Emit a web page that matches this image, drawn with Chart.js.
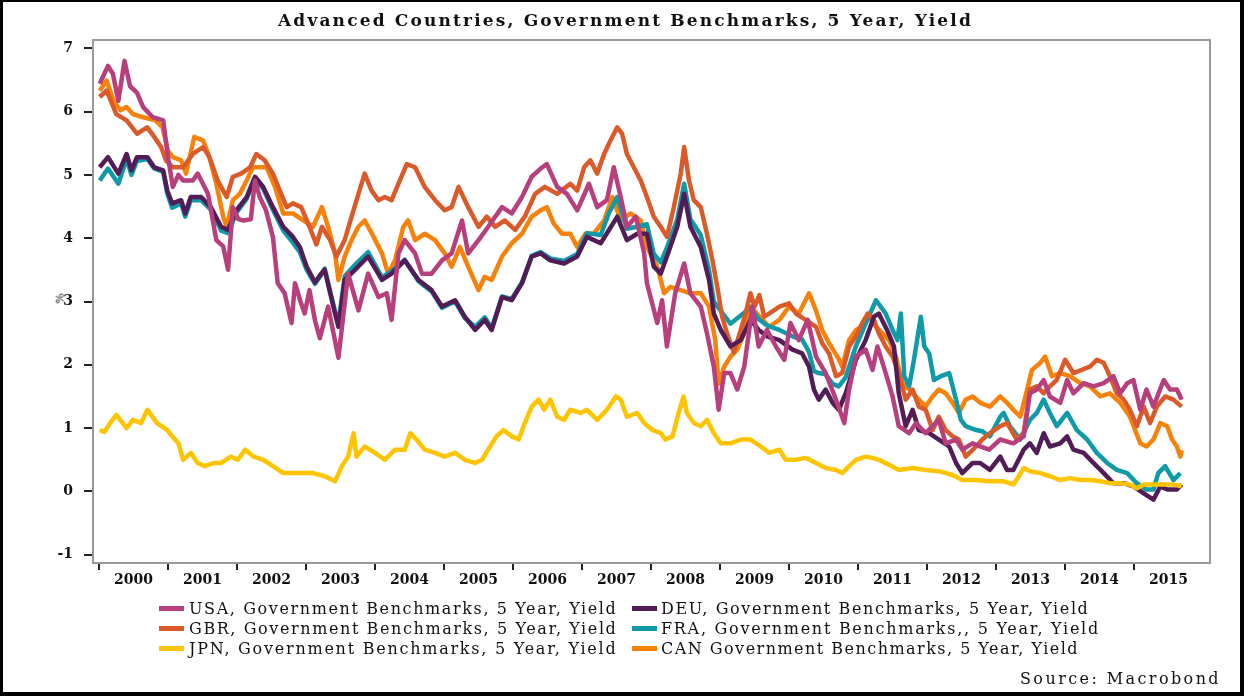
<!DOCTYPE html>
<html>
<head>
<meta charset="utf-8">
<script src="https://cdn.jsdelivr.net/npm/chart.js@4.4.1/dist/chart.umd.min.js"></script>
<style>
  html, body { margin: 0; padding: 0; background: #fff; }
  #wrap { position: relative; width: 1248px; height: 700px; overflow: hidden; background: #fff; }
  #c { position: absolute; left: 0; top: 0; }
  .txt { position: absolute; white-space: nowrap; font-family: "DejaVu Serif", serif; color: #111; }
  #title { font-weight: bold; font-size: 17px; }
  .leg { font-size: 16px; line-height: 19px; }
  .sw { position: absolute; height: 5px; }
  #frame { position: absolute; left: 0; top: 0; width: 1244px; height: 696px; box-sizing: border-box;
           border-left: 3px solid #000; border-top: 2px solid #000; border-right: 4px solid #000; border-bottom: 4px solid #000; pointer-events: none; }
</style>
</head>
<body>
<div id="wrap">
  <canvas id="c" width="1248" height="700"></canvas>
  <div id="title" class="txt">Advanced Countries, Government Benchmarks, 5 Year, Yield</div>
  <div id="pct" class="txt" style="font-size:11px;">%</div>
  <div id="legend"></div>
  <div id="source" class="txt leg">Source: Macrobond</div>
  <div id="frame"></div>
</div>
<script>
// ---------- DATA (decimal years, yield %) ----------
const seriesNames = [
  "USA, Government Benchmarks, 5 Year, Yield",
  "DEU, Government Benchmarks, 5 Year, Yield",
  "GBR, Government Benchmarks, 5 Year, Yield",
  "FRA, Government Benchmarks,, 5 Year, Yield",
  "JPN, Government Benchmarks, 5 Year, Yield",
  "CAN Government Benchmarks, 5 Year, Yield"
];
const seriesColors = ["#B63F7C", "#521C57", "#DA5A2A", "#109AA8", "#FFC400", "#F7820B"];

const usaT = [2000.01,2000.13,2000.20,2000.28,2000.37,2000.45,2000.55,2000.64,2000.78,2000.93,2001.00,2001.07,2001.15,2001.22,2001.36,2001.43,2001.58,2001.70,2001.80,2001.87,2001.94,2002.02,2002.09,2002.20,2002.26,2002.33,2002.42,2002.52,2002.59,2002.69,2002.79,2002.84,2002.92,2002.98,2003.05,2003.13,2003.20,2003.32,2003.47,2003.61,2003.76,2003.90,2004.05,2004.17,2004.24,2004.34,2004.43,2004.58,2004.68,2004.82,2004.97,2005.11,2005.26,2005.35,2005.50,2005.64,2005.84,2005.98,2006.13,2006.27,2006.40,2006.49,2006.64,2006.78,2006.93,2007.10,2007.22,2007.36,2007.46,2007.56,2007.65,2007.78,2007.90,2007.94,2008.09,2008.16,2008.23,2008.35,2008.48,2008.57,2008.72,2008.81,2008.91,2008.98,2009.06,2009.15,2009.25,2009.35,2009.47,2009.56,2009.68,2009.81,2009.93,2010.02,2010.14,2010.27,2010.39,2010.53,2010.68,2010.80,2010.87,2010.97,2011.11,2011.21,2011.28,2011.40,2011.50,2011.59,2011.74,2011.84,2011.98,2012.17,2012.27,2012.42,2012.51,2012.66,2012.77,2012.90,2013.06,2013.25,2013.40,2013.49,2013.59,2013.69,2013.78,2013.93,2014.03,2014.12,2014.27,2014.41,2014.56,2014.70,2014.80,2014.90,2014.99,2015.09,2015.18,2015.28,2015.43,2015.52,2015.62,2015.69];
const usaV = [6.44,6.72,6.60,6.17,6.80,6.40,6.30,6.07,5.91,5.86,5.28,4.81,5.00,4.91,4.91,5.02,4.70,3.97,3.87,3.50,4.49,4.30,4.28,4.30,4.91,4.65,4.44,4.02,3.29,3.13,2.66,3.29,3.00,2.81,3.18,2.70,2.42,2.92,2.11,3.44,2.86,3.44,3.07,3.13,2.71,3.76,3.97,3.76,3.44,3.44,3.65,3.76,4.28,3.76,3.97,4.18,4.49,4.39,4.65,4.97,5.10,5.17,4.81,4.70,4.44,4.86,4.49,4.60,5.12,4.65,4.18,4.34,3.76,3.29,2.66,3.02,2.29,3.13,3.60,3.13,2.92,2.50,1.97,1.29,1.87,1.87,1.61,1.97,2.92,2.29,2.55,2.29,2.08,2.66,2.39,2.71,2.13,1.87,1.45,1.08,1.61,2.13,2.24,1.92,2.29,1.87,1.50,1.03,0.92,1.08,0.92,1.13,0.76,0.82,0.66,0.76,0.71,0.66,0.82,0.76,0.87,1.55,1.61,1.76,1.50,1.40,1.76,1.55,1.71,1.66,1.71,1.82,1.55,1.71,1.76,1.29,1.61,1.34,1.76,1.61,1.61,1.45];

const deuT = [2000.01,2000.13,2000.28,2000.40,2000.47,2000.55,2000.70,2000.80,2000.93,2000.99,2001.06,2001.19,2001.25,2001.33,2001.48,2001.62,2001.77,2001.87,2001.99,2002.14,2002.26,2002.38,2002.52,2002.67,2002.81,2002.91,2003.01,2003.13,2003.22,2003.27,2003.42,2003.47,2003.56,2003.71,2003.90,2004.10,2004.24,2004.43,2004.63,2004.82,2004.97,2005.16,2005.30,2005.45,2005.59,2005.69,2005.84,2005.98,2006.13,2006.27,2006.40,2006.54,2006.74,2006.93,2007.07,2007.27,2007.39,2007.51,2007.65,2007.80,2007.94,2008.04,2008.14,2008.23,2008.38,2008.48,2008.57,2008.72,2008.84,2008.91,2009.01,2009.15,2009.30,2009.44,2009.56,2009.68,2009.86,2010.05,2010.19,2010.29,2010.36,2010.43,2010.53,2010.63,2010.72,2010.82,2010.97,2011.11,2011.23,2011.30,2011.42,2011.52,2011.59,2011.69,2011.79,2011.88,2012.03,2012.17,2012.32,2012.42,2012.51,2012.66,2012.77,2012.91,2013.06,2013.16,2013.25,2013.40,2013.49,2013.59,2013.69,2013.78,2013.93,2014.03,2014.12,2014.27,2014.41,2014.56,2014.70,2014.85,2014.99,2015.14,2015.28,2015.38,2015.48,2015.62,2015.69];
const deuV = [5.12,5.28,5.02,5.33,5.07,5.28,5.28,5.12,5.07,4.75,4.55,4.60,4.39,4.65,4.65,4.49,4.18,4.13,4.44,4.65,4.97,4.81,4.49,4.18,4.02,3.86,3.55,3.30,3.44,3.50,2.81,2.60,3.34,3.50,3.71,3.34,3.44,3.65,3.34,3.18,2.92,3.02,2.76,2.55,2.71,2.55,3.07,3.02,3.29,3.71,3.76,3.65,3.60,3.71,4.02,3.92,4.13,4.34,3.97,4.07,4.07,3.55,3.44,3.71,4.18,4.70,4.18,3.86,3.34,2.81,2.55,2.29,2.39,2.71,2.55,2.45,2.39,2.24,2.18,1.97,1.61,1.45,1.61,1.40,1.29,1.55,2.08,2.39,2.76,2.81,2.55,2.29,1.55,1.03,1.29,0.97,0.92,0.82,0.71,0.45,0.29,0.45,0.45,0.34,0.55,0.34,0.34,0.66,0.76,0.61,0.92,0.71,0.76,0.87,0.66,0.61,0.45,0.29,0.13,0.13,0.08,-0.03,-0.13,0.08,0.03,0.03,0.11];

const gbrT = [2000.01,2000.11,2000.19,2000.25,2000.40,2000.55,2000.70,2000.80,2000.90,2000.97,2001.07,2001.22,2001.36,2001.51,2001.60,2001.72,2001.85,2001.94,2002.06,2002.19,2002.28,2002.40,2002.52,2002.62,2002.72,2002.81,2002.93,2003.05,2003.15,2003.23,2003.35,2003.44,2003.56,2003.66,2003.76,2003.85,2003.95,2004.05,2004.14,2004.24,2004.34,2004.46,2004.58,2004.72,2004.87,2005.01,2005.11,2005.21,2005.35,2005.50,2005.62,2005.74,2005.88,2006.03,2006.17,2006.32,2006.46,2006.64,2006.83,2006.93,2007.03,2007.12,2007.22,2007.32,2007.41,2007.51,2007.58,2007.65,2007.75,2007.85,2007.94,2008.04,2008.14,2008.23,2008.33,2008.43,2008.48,2008.55,2008.62,2008.72,2008.81,2008.89,2008.96,2009.03,2009.10,2009.20,2009.30,2009.37,2009.44,2009.50,2009.57,2009.64,2009.71,2009.86,2010.00,2010.10,2010.24,2010.39,2010.48,2010.58,2010.68,2010.77,2010.87,2010.97,2011.06,2011.14,2011.23,2011.30,2011.40,2011.50,2011.59,2011.69,2011.79,2011.88,2011.98,2012.08,2012.17,2012.27,2012.37,2012.46,2012.56,2012.71,2012.80,2012.91,2013.06,2013.16,2013.30,2013.40,2013.49,2013.59,2013.69,2013.78,2013.88,2014.00,2014.12,2014.24,2014.36,2014.46,2014.56,2014.65,2014.75,2014.85,2014.94,2015.04,2015.14,2015.23,2015.33,2015.45,2015.57,2015.69];
const gbrV = [6.23,6.33,6.12,5.96,5.86,5.65,5.75,5.60,5.44,5.23,5.12,5.12,5.33,5.44,5.28,4.91,4.65,4.97,5.02,5.12,5.33,5.23,5.02,4.75,4.49,4.55,4.49,4.18,3.90,4.18,3.97,3.71,3.97,4.34,4.70,5.02,4.75,4.60,4.65,4.60,4.86,5.17,5.12,4.81,4.60,4.44,4.49,4.81,4.49,4.18,4.34,4.18,4.28,4.13,4.34,4.70,4.81,4.70,4.86,4.75,5.12,5.23,5.02,5.33,5.54,5.75,5.65,5.33,5.12,4.91,4.65,4.34,4.18,4.02,4.49,5.02,5.44,4.91,4.60,4.49,4.07,3.65,3.23,2.76,2.50,2.20,2.55,2.81,3.13,2.92,3.10,2.76,2.81,2.92,2.97,2.81,2.71,2.60,2.34,2.18,1.82,1.87,2.29,2.45,2.66,2.81,2.71,2.50,2.29,2.13,1.87,1.45,1.61,1.34,1.29,0.97,1.18,0.97,0.87,0.82,0.55,0.71,0.82,0.92,1.03,1.08,0.82,0.92,1.61,1.66,1.55,1.66,1.76,2.08,1.87,1.92,1.97,2.08,2.03,1.82,1.55,1.45,1.29,1.03,1.34,1.08,1.34,1.50,1.45,1.34];

const fraT = [2000.01,2000.13,2000.28,2000.40,2000.47,2000.55,2000.70,2000.80,2000.93,2000.99,2001.06,2001.19,2001.25,2001.33,2001.48,2001.62,2001.77,2001.87,2001.99,2002.14,2002.26,2002.38,2002.52,2002.67,2002.81,2002.91,2003.01,2003.13,2003.22,2003.27,2003.42,2003.47,2003.56,2003.71,2003.90,2004.10,2004.24,2004.43,2004.63,2004.82,2004.97,2005.16,2005.30,2005.45,2005.59,2005.69,2005.84,2005.98,2006.13,2006.27,2006.40,2006.54,2006.74,2006.93,2007.07,2007.27,2007.39,2007.51,2007.65,2007.80,2007.94,2008.04,2008.14,2008.23,2008.38,2008.48,2008.57,2008.72,2008.84,2008.91,2009.01,2009.15,2009.30,2009.44,2009.56,2009.68,2009.86,2010.05,2010.19,2010.29,2010.36,2010.43,2010.53,2010.63,2010.72,2010.82,2010.97,2011.11,2011.26,2011.40,2011.50,2011.57,2011.62,2011.67,2011.74,2011.81,2011.91,2011.96,2012.03,2012.10,2012.20,2012.32,2012.42,2012.49,2012.56,2012.71,2012.80,2012.91,2013.06,2013.11,2013.20,2013.35,2013.49,2013.59,2013.69,2013.78,2013.88,2014.03,2014.17,2014.32,2014.46,2014.61,2014.75,2014.90,2015.04,2015.18,2015.28,2015.35,2015.45,2015.57,2015.67];
const fraV = [4.91,5.10,4.86,5.25,5.00,5.22,5.25,5.10,5.05,4.70,4.48,4.55,4.34,4.60,4.60,4.45,4.12,4.08,4.40,4.62,4.95,4.78,4.45,4.12,3.93,3.78,3.50,3.28,3.42,3.52,2.85,2.66,3.40,3.58,3.78,3.38,3.48,3.66,3.32,3.16,2.90,3.00,2.74,2.60,2.75,2.58,3.08,3.04,3.30,3.72,3.78,3.68,3.64,3.75,4.08,4.05,4.40,4.65,4.15,4.18,4.22,3.75,3.62,3.85,4.30,4.86,4.30,4.05,3.50,3.00,2.85,2.65,2.78,2.90,2.72,2.62,2.55,2.45,2.40,2.20,1.90,1.87,1.85,1.70,1.66,1.80,2.30,2.65,3.02,2.81,2.55,2.39,2.81,1.82,1.66,2.08,2.76,2.29,2.18,1.76,1.82,1.87,1.45,1.13,1.03,0.97,0.95,0.87,1.18,1.24,1.03,0.82,1.13,1.24,1.45,1.24,1.03,1.24,0.97,0.82,0.61,0.45,0.34,0.29,0.13,0.03,0.03,0.29,0.40,0.18,0.29];

const jpnT = [2000.01,2000.08,2000.16,2000.25,2000.40,2000.49,2000.61,2000.70,2000.84,2000.99,2001.06,2001.15,2001.22,2001.33,2001.43,2001.53,2001.67,2001.77,2001.91,2002.01,2002.12,2002.24,2002.38,2002.52,2002.67,2002.81,2002.96,2003.10,2003.27,2003.42,2003.52,2003.61,2003.69,2003.73,2003.85,2004.00,2004.14,2004.29,2004.43,2004.51,2004.60,2004.72,2004.87,2005.01,2005.16,2005.30,2005.45,2005.55,2005.64,2005.76,2005.86,2005.98,2006.08,2006.17,2006.27,2006.37,2006.45,2006.54,2006.64,2006.74,2006.83,2006.98,2007.07,2007.22,2007.36,2007.49,2007.56,2007.65,2007.80,2007.90,2008.02,2008.14,2008.21,2008.31,2008.40,2008.47,2008.52,2008.62,2008.72,2008.81,2008.91,2009.01,2009.15,2009.30,2009.44,2009.59,2009.71,2009.86,2009.95,2010.10,2010.24,2010.39,2010.53,2010.68,2010.77,2010.87,2010.97,2011.11,2011.21,2011.30,2011.45,2011.59,2011.79,2011.98,2012.17,2012.37,2012.51,2012.71,2012.90,2013.11,2013.25,2013.33,2013.40,2013.49,2013.64,2013.78,2013.93,2014.07,2014.22,2014.36,2014.51,2014.65,2014.80,2014.94,2015.04,2015.14,2015.28,2015.43,2015.57,2015.69];
const jpnV = [0.97,0.94,1.08,1.21,1.00,1.13,1.08,1.29,1.08,0.97,0.87,0.76,0.50,0.61,0.45,0.40,0.45,0.45,0.55,0.50,0.66,0.55,0.50,0.40,0.29,0.29,0.29,0.29,0.24,0.16,0.40,0.55,0.92,0.55,0.71,0.61,0.50,0.66,0.66,0.92,0.82,0.66,0.61,0.55,0.61,0.50,0.45,0.50,0.66,0.87,0.97,0.87,0.82,1.08,1.34,1.45,1.29,1.45,1.18,1.13,1.29,1.24,1.29,1.13,1.29,1.50,1.45,1.18,1.24,1.08,0.97,0.92,0.82,0.87,1.24,1.50,1.24,1.08,1.03,1.13,0.92,0.76,0.76,0.82,0.82,0.71,0.61,0.66,0.50,0.50,0.53,0.45,0.37,0.34,0.29,0.40,0.50,0.55,0.53,0.50,0.42,0.34,0.37,0.34,0.32,0.26,0.18,0.18,0.16,0.16,0.11,0.24,0.37,0.32,0.29,0.24,0.18,0.21,0.18,0.18,0.16,0.13,0.13,0.11,0.05,0.11,0.11,0.11,0.11,0.08];

const canT = [2000.01,2000.11,2000.21,2000.31,2000.40,2000.49,2000.64,2000.82,2000.92,2001.00,2001.07,2001.19,2001.26,2001.38,2001.51,2001.60,2001.70,2001.80,2001.85,2001.94,2002.04,2002.14,2002.23,2002.33,2002.43,2002.55,2002.67,2002.81,2002.96,2003.10,2003.23,2003.32,2003.42,2003.47,2003.56,2003.66,2003.76,2003.85,2003.98,2004.10,2004.19,2004.29,2004.41,2004.48,2004.58,2004.72,2004.87,2005.01,2005.11,2005.23,2005.35,2005.50,2005.59,2005.69,2005.84,2005.98,2006.13,2006.27,2006.40,2006.49,2006.59,2006.71,2006.83,2006.93,2007.05,2007.17,2007.32,2007.44,2007.56,2007.70,2007.85,2007.94,2008.09,2008.19,2008.28,2008.43,2008.57,2008.72,2008.84,2008.93,2008.98,2009.06,2009.15,2009.25,2009.35,2009.44,2009.56,2009.71,2009.86,2010.00,2010.14,2010.29,2010.39,2010.48,2010.58,2010.70,2010.77,2010.87,2010.97,2011.06,2011.16,2011.26,2011.35,2011.45,2011.55,2011.64,2011.74,2011.88,2011.98,2012.08,2012.17,2012.27,2012.37,2012.46,2012.56,2012.66,2012.77,2012.91,2013.06,2013.16,2013.25,2013.35,2013.45,2013.52,2013.64,2013.71,2013.81,2013.93,2014.07,2014.22,2014.36,2014.51,2014.65,2014.80,2014.94,2015.09,2015.18,2015.28,2015.38,2015.48,2015.55,2015.62,2015.67,2015.69];
const canV = [6.33,6.49,6.17,6.02,6.07,5.96,5.91,5.86,5.75,5.38,5.28,5.23,5.02,5.60,5.54,5.28,4.86,4.34,4.18,4.60,4.70,4.91,5.12,5.12,5.12,4.81,4.39,4.39,4.28,4.18,4.49,4.18,3.76,3.34,3.71,3.97,4.18,4.28,4.02,3.76,3.44,3.65,4.18,4.28,3.97,4.07,3.97,3.76,3.55,3.86,3.55,3.18,3.39,3.34,3.71,3.92,4.07,4.34,4.44,4.49,4.23,4.07,4.07,3.86,4.07,4.07,4.28,4.65,4.28,4.39,4.28,3.86,3.55,3.13,3.23,3.18,3.13,3.13,2.92,2.39,1.70,1.97,2.13,2.24,2.50,2.92,2.78,2.60,2.71,2.92,2.81,3.13,2.86,2.55,2.34,2.13,1.97,2.39,2.55,2.60,2.76,2.60,2.50,2.39,2.13,1.71,1.61,1.45,1.34,1.50,1.61,1.55,1.40,1.24,1.45,1.50,1.40,1.34,1.50,1.40,1.29,1.18,1.61,1.92,2.03,2.13,1.82,1.87,1.82,1.71,1.66,1.50,1.55,1.40,1.18,0.76,0.71,0.82,1.08,1.03,0.82,0.71,0.55,0.65];

const yTickValues = [-1, 0, 1, 2, 3, 4, 5, 6, 7];
const yearTicks = [2000,2001,2002,2003,2004,2005,2006,2007,2008,2009,2010,2011,2012,2013,2014,2015];

// ---------- CHART ----------
const pts = (T, V) => T.map((t, i) => ({ x: t, y: V[i] }));
const allT = [usaT, deuT, gbrT, fraT, jpnT, canT];
const allV = [usaV, deuV, gbrV, fraV, jpnV, canV];
const zOrder = [1, 2, 3, 4, 0, 5]; // lower = drawn on top

const datasets = seriesNames.map((name, i) => ({
  label: name,
  data: pts(allT[i], allV[i]),
  borderColor: seriesColors[i],
  backgroundColor: seriesColors[i],
  borderWidth: 4.5,
  pointRadius: 0,
  tension: 0,
  fill: false,
  order: zOrder[i],
  borderJoinStyle: 'round'
}));

const tickFont = { family: "DejaVu Serif", weight: "bold", size: 14 };

const framePlugin = {
  id: 'frame',
  beforeDatasetsDraw(chart) {
    const a = chart.chartArea, ctx = chart.ctx;
    ctx.save();
    ctx.strokeStyle = '#9a9a9a';
    ctx.lineWidth = 2;
    ctx.strokeRect(a.left, a.top, a.right - a.left, a.bottom - a.top);
    ctx.restore();
  }
};

new Chart(document.getElementById('c'), {
  type: 'line',
  data: { datasets },
  plugins: [framePlugin],
  options: {
    responsive: false,
    devicePixelRatio: 1,
    animation: false,
    layout: { padding: { left: 0, top: 40, right: 38, bottom: 107 } },
    plugins: { legend: { display: false }, tooltip: { enabled: false }, title: { display: false } },
    scales: {
      x: {
        type: 'linear',
        min: 1999.913,
        max: 2016.10,
        afterBuildTicks(scale) {
          const t = [];
          yearTicks.forEach(y => { t.push({ value: y }); t.push({ value: y + 0.5 }); });
          scale.ticks = t;
        },
        afterFit(scale) { scale.height = 30; },
        ticks: {
          autoSkip: false, maxRotation: 0, minRotation: 0,
          padding: 2, color: '#111', font: tickFont,
          callback: (v) => Number.isInteger(v) ? '' : String(Math.floor(v))
        },
        grid: {
          drawOnChartArea: false, drawTicks: true, tickLength: 7, tickWidth: 2, lineWidth: 2,
          color: (ctx) => (ctx.tick && Number.isInteger(ctx.tick.value)) ? '#222' : 'rgba(0,0,0,0)',
          tickColor: (ctx) => (ctx.tick && Number.isInteger(ctx.tick.value)) ? '#222' : 'rgba(0,0,0,0)'
        },
        border: { display: false }
      },
      y: {
        type: 'linear',
        min: -1.13,
        max: 7.13,
        afterBuildTicks(scale) { scale.ticks = yTickValues.map(v => ({ value: v })); },
        afterFit(scale) { scale.width = 93; },
        ticks: { padding: 11, color: '#111', font: tickFont },
        grid: { drawOnChartArea: false, drawTicks: true, tickLength: 9, tickWidth: 2, lineWidth: 2, color: '#222', tickColor: '#222' },
        border: { display: false }
      }
    }
  }
});

// ---------- TEXT LAYOUT ----------
function fitWidth(el, target) {
  el.style.letterSpacing = '0px';
  const w = el.getBoundingClientRect().width;
  const n = el.textContent.length;
  el.style.letterSpacing = ((target - w) / n) + 'px';
}
function place(el, left, centerY) {
  const r = el.getBoundingClientRect();
  el.style.left = left + 'px';
  el.style.top = (centerY - r.height / 2) + 'px';
}

const title = document.getElementById('title');
fitWidth(title, 695);
{ const r = title.getBoundingClientRect(); title.style.left = (625.5 - r.width / 2) + 'px'; title.style.top = (20 - r.height / 2) + 'px'; }

const pct = document.getElementById('pct');
pct.style.left = '55px'; pct.style.top = '292px'; pct.style.transform = 'rotate(-90deg)';

const legend = document.getElementById('legend');
const legendOrder = [0, 1, 2, 3, 4, 5];
const colX = [{ sw: 159, tx: 189 }, { sw: 632, tx: 661 }];
const rowY = [608, 628, 648];
legendOrder.forEach((si, k) => {
  const col = k % 2, row = Math.floor(k / 2);
  const sw = document.createElement('div');
  sw.className = 'sw';
  sw.style.left = colX[col].sw + 'px';
  sw.style.width = '25px';
  sw.style.top = (rowY[row] - 2.5) + 'px';
  sw.style.background = seriesColors[si];
  legend.appendChild(sw);
  const tx = document.createElement('div');
  tx.className = 'txt leg';
  tx.textContent = seriesNames[si];
  legend.appendChild(tx);
  fitWidth(tx, seriesNames[si].length * 10.45);
  place(tx, colX[col].tx, rowY[row]);
});

const src = document.getElementById('source');
fitWidth(src, 201);
{ const r = src.getBoundingClientRect(); src.style.left = (1221 - r.width) + 'px'; src.style.top = (678 - r.height / 2) + 'px'; }
</script>
</body>
</html>
